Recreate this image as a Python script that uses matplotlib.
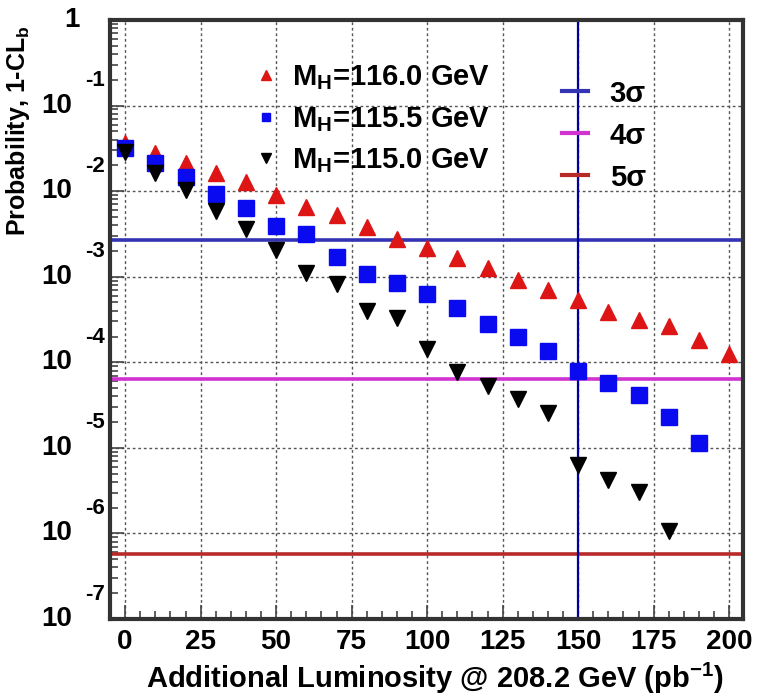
import matplotlib
matplotlib.use('Agg')
import matplotlib.pyplot as plt
from matplotlib.lines import Line2D
from matplotlib.ticker import MultipleLocator, LogLocator, NullFormatter

# Luminosity steps (pb^-1) and expected probabilities
lumi_116 = [0, 10, 20, 30, 40, 50, 60, 70, 80, 90, 100,
            110, 120, 130, 140, 150, 160, 170, 180, 190, 200]
prob_116 = [0.0366, 0.0279, 0.0213, 0.0163, 0.0128, 0.00904, 0.00653, 0.00527,
            0.00382, 0.00277, 0.00217, 0.00166, 0.00127, 9.18e-4, 7.02e-4,
            5.36e-4, 3.88e-4, 3.13e-4, 2.66e-4, 1.83e-4, 1.25e-4]

lumi_1155 = [0, 10, 20, 30, 40, 50, 60, 70, 80, 90,
             100, 110, 120, 130, 140, 150, 160, 170, 180, 190]
prob_1155 = [0.0320, 0.0213, 0.01466, 0.00927, 0.00637, 0.00392, 0.00316,
             0.00170, 0.00108, 8.47e-4, 6.30e-4, 4.32e-4, 2.81e-4, 1.98e-4,
             1.36e-4, 7.94e-5, 5.74e-5, 4.16e-5, 2.30e-5, 1.14e-5]

lumi_115 = [0, 10, 20, 30, 40, 50, 60, 70, 80, 90,
            100, 110, 120, 130, 140, 150, 160, 170, 180]
prob_115 = [0.0287, 0.0163, 0.0103, 0.00587, 0.00362, 0.00206, 0.00111,
            8.24e-4, 3.98e-4, 3.30e-4, 1.44e-4, 7.73e-5, 5.30e-5, 3.73e-5,
            2.56e-5, 6.33e-6, 4.23e-6, 3.06e-6, 1.07e-6]

sigma_labels = ['3\u03c3', '4\u03c3', '5\u03c3']
sigma_levels = [2.7e-3, 6.3e-5, 5.7e-7]
sigma_colors = ['#3333b3', '#d033d0', '#b82a2a']
lumi_marker = 150

decades = [-7, -6, -5, -4, -3, -2, -1, 0]

FONT = 'Liberation Sans'
plt.rcParams['font.family'] = [FONT, 'DejaVu Sans']
plt.rcParams['font.weight'] = 'bold'
plt.rcParams['mathtext.fontset'] = 'custom'
plt.rcParams['mathtext.rm'] = FONT + ':bold'
plt.rcParams['mathtext.bf'] = FONT + ':bold'
plt.rcParams['mathtext.it'] = FONT + ':bold'

fig = plt.figure(figsize=(7.67, 6.99), dpi=100)
ax = fig.add_axes([110 / 767, 1 - 619 / 699, 633 / 767, 599 / 699])

ax.set_yscale('log')
ax.set_xlim(-5, 204.6)
ax.set_ylim(1e-7, 1)

# reference lines
for lvl, col in zip(sigma_levels, sigma_colors):
    ax.axhline(lvl, color=col, lw=2.6, zorder=2)
ax.axvline(lumi_marker, color='#0000a0', lw=1.6, zorder=2)

h116, = ax.plot(lumi_116, prob_116, ls='none', marker='^', ms=12,
                color='#dd1515', mec='#dd1515', zorder=3)
h1155, = ax.plot(lumi_1155, prob_1155, ls='none', marker='s', ms=11.5,
                 color='#0a0af0', mec='#0a0af0', zorder=3)
h115, = ax.plot(lumi_115, prob_115, ls='none', marker='v', ms=12,
                color='black', zorder=3)

# grid, ticks, frame (ROOT-like)
ax.grid(True, which='major', ls=(0, (2, 2)), color='#555555', lw=1.0)
ax.xaxis.set_major_locator(MultipleLocator(25))
ax.xaxis.set_minor_locator(MultipleLocator(5))
ax.yaxis.set_major_locator(LogLocator(base=10, numticks=20))
ax.yaxis.set_minor_locator(LogLocator(base=10, subs=range(2, 10), numticks=20))
ax.yaxis.set_major_formatter(NullFormatter())
ax.yaxis.set_minor_formatter(NullFormatter())
ax.tick_params(which='both', direction='in', top=False, right=False,
               color='#444444', width=1.2)
ax.tick_params(which='major', length=10)
ax.tick_params(which='minor', length=6)
ax.tick_params(axis='x', labelsize=20, pad=7)
for s in ax.spines.values():
    s.set_linewidth(3)
    s.set_color('#333333')

# y tick labels written ROOT style: "10" with raised exponent
for e in decades:
    if e == 0:
        ax.annotate('1', xy=(0, 10.0 ** e), xycoords=('axes fraction', 'data'),
                    xytext=(-30, 0), textcoords='offset pixels',
                    ha='right', va='center', fontsize=20)
        continue
    ax.annotate('10', xy=(0, 10.0 ** e), xycoords=('axes fraction', 'data'),
                xytext=(-38, 0), textcoords='offset pixels',
                ha='right', va='center', fontsize=20)
    ax.annotate(str(e), xy=(0, 10.0 ** e), xycoords=('axes fraction', 'data'),
                xytext=(-25, 25), textcoords='offset pixels',
                ha='left', va='center', fontsize=16)

fig.text(435 / 767, 1 - 678 / 699,
         r'Additional Luminosity @ 208.2 GeV (pb$^{-1}$)',
         ha='center', va='center', fontsize=21, fontweight='bold')
fig.text(32 / 767, 1 - 131 / 699, r'Probability, 1-CL$_b$',
         rotation=90, ha='right', va='center', fontsize=18)

leg1 = ax.legend([h116, h1155, h115],
                 [r'M$_{\mathregular{H}}$=116.0 GeV', r'M$_{\mathregular{H}}$=115.5 GeV',
                  r'M$_{\mathregular{H}}$=115.0 GeV'],
                 loc='upper left', bbox_to_anchor=(0.205, 0.948), frameon=False,
                 fontsize=21, markerscale=0.55, handlelength=1.0,
                 handletextpad=0.4, labelspacing=0.45, borderaxespad=0)
ax.add_artist(leg1)
sig_handles = [Line2D([], [], color=c, lw=3) for c in sigma_colors]
ax.legend(sig_handles, sigma_labels, loc='upper left',
          bbox_to_anchor=(0.695, 0.92), frameon=False, fontsize=21,
          handlelength=0.9, handletextpad=0.75, labelspacing=0.48,
          borderaxespad=0)

fig.savefig('out.png', dpi=100)
